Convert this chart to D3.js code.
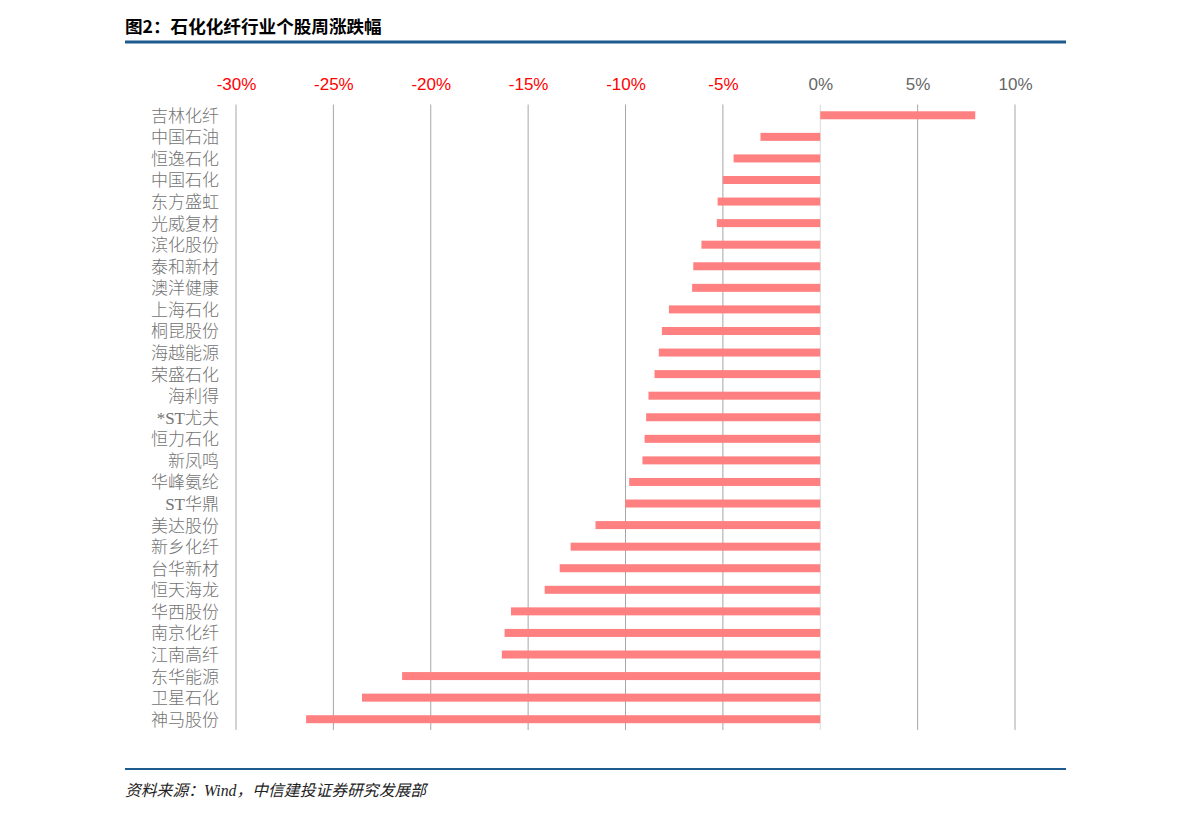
<!DOCTYPE html>
<html>
<head>
<meta charset="utf-8">
<script src="https://cdn.jsdelivr.net/npm/d3@7"></script>
<style>
  body { margin: 0; background: #fff; }
  #chart { width: 1191px; height: 818px; }
</style>
</head>
<body>
<div id="chart"></div>
<script>
const titleText = "图2：石化化纤行业个股周涨跌幅";
const sourceText = "资料来源：Wind，中信建投证券研究发展部";

const stocks = ["吉林化纤", "中国石油", "恒逸石化", "中国石化", "东方盛虹", "光威复材", "滨化股份",
  "泰和新材", "澳洋健康", "上海石化", "桐昆股份", "海越能源", "荣盛石化", "海利得", "*ST尤夫",
  "恒力石化", "新凤鸣", "华峰氨纶", "ST华鼎", "美达股份", "新乡化纤", "台华新材", "恒天海龙",
  "华西股份", "南京化纤", "江南高纤", "东华能源", "卫星石化", "神马股份"];

const weeklyChange = [7.96, -3.07, -4.45, -5.00, -5.27, -5.31, -6.10,
  -6.52, -6.58, -7.77, -8.13, -8.29, -8.51, -8.82, -8.94,
  -9.02, -9.13, -9.81, -10.02, -11.54, -12.82, -13.38, -14.15,
  -15.88, -16.21, -16.35, -21.47, -23.53, -26.40];

const xTicks = [-30, -25, -20, -15, -10, -5, 0, 5, 10];

//CONSTANTS ↓
const w = 1191, h = 818;
const padL = 236, padR = 1015, padT = 104.5, padB = 730;
const barH = 8;
//CONSTANTS ↑

const data = stocks.map((s, i) => ({name: s, value: weeklyChange[i]}));

const svg = d3
              .select("#chart")
              .append("svg")
              .attr("width", w)
              .attr("height", h);

// title + rules
svg
   .append("text")
   .attr("x", 125)
   .attr("y", 33)
   .style("font-family", "'Noto Sans CJK SC', sans-serif")
   .style("font-weight", "bold")
   .style("font-size", "17.6px")
   .style("fill", "#000")
   .text(titleText);

svg
   .append("line")
   .attr("x1", 125).attr("x2", 1066)
   .attr("y1", 42).attr("y2", 42)
   .attr("stroke", "#1d5a8e")
   .attr("stroke-width", 3);

svg
   .append("line")
   .attr("x1", 125).attr("x2", 1066)
   .attr("y1", 769).attr("y2", 769)
   .attr("stroke", "#1d5a8e")
   .attr("stroke-width", 2);

svg
   .append("text")
   .attr("x", 125)
   .attr("y", 796)
   .style("font-family", "'Liberation Serif', 'Noto Sans CJK SC', serif")
   .style("font-style", "italic")
   .style("font-size", "15.8px")
   .style("fill", "#222")
   .text(sourceText);

const xScale = d3
                .scaleLinear()
                .domain([-30, 10])
                .range([padL, padR]);

const yScale = d3
                .scaleBand()
                .domain(stocks)
                .range([padT, padB]);

// grid lines
svg
   .append("g")
   .selectAll("line")
   .data(xTicks)
   .enter()
   .append("line")
   .attr("x1", d => xScale(d))
   .attr("x2", d => xScale(d))
   .attr("y1", padT)
   .attr("y2", padB)
   .attr("stroke", d => d === 0 ? "#d9d9d9" : "#a6a6a6")
   .attr("stroke-width", 1);

// top axis labels
const xAxis = svg
                 .append("g")
                 .attr("transform", `translate(0, 90)`)
                 .call(d3.axisTop(xScale).tickValues(xTicks).tickSize(0).tickPadding(0).tickFormat(d => d + "%"));
xAxis.select(".domain").remove();
xAxis
     .selectAll("text")
     .style("font-family", "'Liberation Sans', Arial, sans-serif")
     .style("font-size", "17px")
     .style("fill", d => d < 0 ? "#ff0000" : "#666");

// bars
svg
   .append("g")
   .selectAll("rect")
   .data(data)
   .enter()
   .append("rect")
   .attr("x", d => xScale(Math.min(0, d.value)))
   .attr("width", d => Math.abs(xScale(d.value) - xScale(0)))
   .attr("y", d => yScale(d.name) + yScale.bandwidth() / 2 - barH / 2)
   .attr("height", barH)
   .attr("fill", "#ff8080");

// category labels
const yAxis = svg
                 .append("g")
                 .attr("transform", `translate(219, 1)`)
                 .call(d3.axisLeft(yScale).tickSize(0).tickPadding(0));
yAxis.select(".domain").remove();
yAxis
     .selectAll("text")
     .style("font-family", "'Liberation Serif', 'Noto Sans CJK SC', serif")
     .style("font-size", "17px")
     .style("font-weight", "300")
     .style("fill", "#737373");
</script>
</body>
</html>
